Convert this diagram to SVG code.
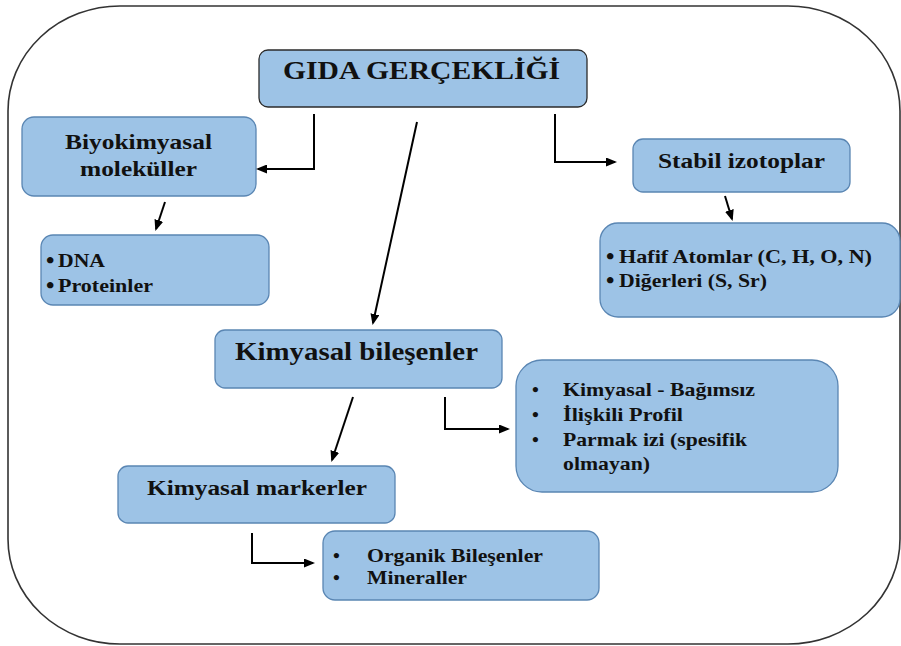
<svg xmlns="http://www.w3.org/2000/svg" width="901" height="646" viewBox="0 0 901 646">
<defs>
<marker id="ah" markerUnits="userSpaceOnUse" markerWidth="11" markerHeight="9" refX="9" refY="4.5" orient="auto">
<path d="M0,0 L11,4.5 L0,9 z" fill="#000"/>
</marker>
<style>
.box{fill:#9DC3E6;stroke:#5A86B3;stroke-width:1.3}
.tbox{fill:#9DC3E6;stroke:#2b2b2b;stroke-width:1.3}
text{font-family:"Liberation Serif","Times New Roman",serif;font-weight:bold;fill:#111}
.t25{font-size:25px}
.t22{font-size:22px}
.t19{font-size:19.5px}
.bl{font-size:24px}
.conn{fill:none;stroke:#000;stroke-width:2;marker-end:url(#ah)}
</style>
</defs>
<rect x="8" y="6" width="892" height="638" rx="112" ry="105" fill="#fff" stroke="#333" stroke-width="1.6"/>

<g id="gida">
<rect class="tbox" x="259" y="50" width="328" height="57" rx="9"/>
<text class="t25" x="283" y="79" textLength="277" lengthAdjust="spacingAndGlyphs">GIDA GERÇEKLİĞİ</text>
</g>

<g id="biyokimyasal">
<rect class="box" x="22" y="117" width="234" height="79" rx="12"/>
<text class="t22" x="65" y="149" textLength="147" lengthAdjust="spacingAndGlyphs">Biyokimyasal</text>
<text class="t22" x="80" y="176" textLength="117" lengthAdjust="spacingAndGlyphs">moleküller</text>
</g>

<g id="dna">
<rect class="box" x="41" y="235" width="228" height="70" rx="12"/>
<text class="bl" x="46" y="268">•</text>
<text class="t19" x="58" y="267" textLength="47" lengthAdjust="spacingAndGlyphs">DNA</text>
<text class="bl" x="46" y="293">•</text>
<text class="t19" x="58" y="292" textLength="95" lengthAdjust="spacingAndGlyphs">Proteinler</text>
</g>

<g id="stabil">
<rect class="box" x="633" y="139" width="217" height="53" rx="10"/>
<text class="t22" x="658" y="168" textLength="167" lengthAdjust="spacingAndGlyphs">Stabil izotoplar</text>
</g>

<g id="hafif">
<rect class="box" x="600" y="223" width="300" height="94" rx="18"/>
<text class="bl" x="606" y="264">•</text>
<text class="t19" x="619" y="263" textLength="253" lengthAdjust="spacingAndGlyphs">Hafif Atomlar (C, H, O, N)</text>
<text class="bl" x="606" y="288">•</text>
<text class="t19" x="619" y="287" textLength="148" lengthAdjust="spacingAndGlyphs">Diğerleri (S, Sr)</text>
</g>

<g id="kimyasal-bilesenler">
<rect class="box" x="215" y="330" width="287" height="58" rx="10"/>
<text class="t25" x="235" y="360" textLength="243" lengthAdjust="spacingAndGlyphs">Kimyasal bileşenler</text>
</g>

<g id="profil">
<rect class="box" x="516" y="360" width="322" height="132" rx="26"/>
<text class="t19" x="532" y="396">•</text>
<text class="t19" x="563" y="396" textLength="192" lengthAdjust="spacingAndGlyphs">Kimyasal - Bağımsız</text>
<text class="t19" x="532" y="421">•</text>
<text class="t19" x="563" y="421" textLength="120" lengthAdjust="spacingAndGlyphs">İlişkili Profil</text>
<text class="t19" x="532" y="446">•</text>
<text class="t19" x="563" y="446" textLength="184" lengthAdjust="spacingAndGlyphs">Parmak izi (spesifik</text>
<text class="t19" x="563" y="470" textLength="87" lengthAdjust="spacingAndGlyphs">olmayan)</text>
</g>

<g id="markerler">
<rect class="box" x="118" y="466" width="277" height="57" rx="10"/>
<text class="t22" x="147" y="495" textLength="220" lengthAdjust="spacingAndGlyphs">Kimyasal markerler</text>
</g>

<g id="organik">
<rect class="box" x="323" y="531" width="276" height="69" rx="12"/>
<text class="t19" x="333" y="562">•</text>
<text class="t19" x="367" y="562" textLength="176" lengthAdjust="spacingAndGlyphs">Organik Bileşenler</text>
<text class="t19" x="333" y="584">•</text>
<text class="t19" x="367" y="584" textLength="100" lengthAdjust="spacingAndGlyphs">Mineraller</text>
</g>

<g id="connectors">
<path class="conn" d="M314,114 V169 H258"/>
<path class="conn" d="M417,122 L373,323"/>
<path class="conn" d="M555,114 V162 H615"/>
<path class="conn" d="M165,202 L156,229"/>
<path class="conn" d="M725,196 L732,219"/>
<path class="conn" d="M353,397 L332,460"/>
<path class="conn" d="M445,397 V429 H508"/>
<path class="conn" d="M252,533 V563 H313"/>
</g>
</svg>
